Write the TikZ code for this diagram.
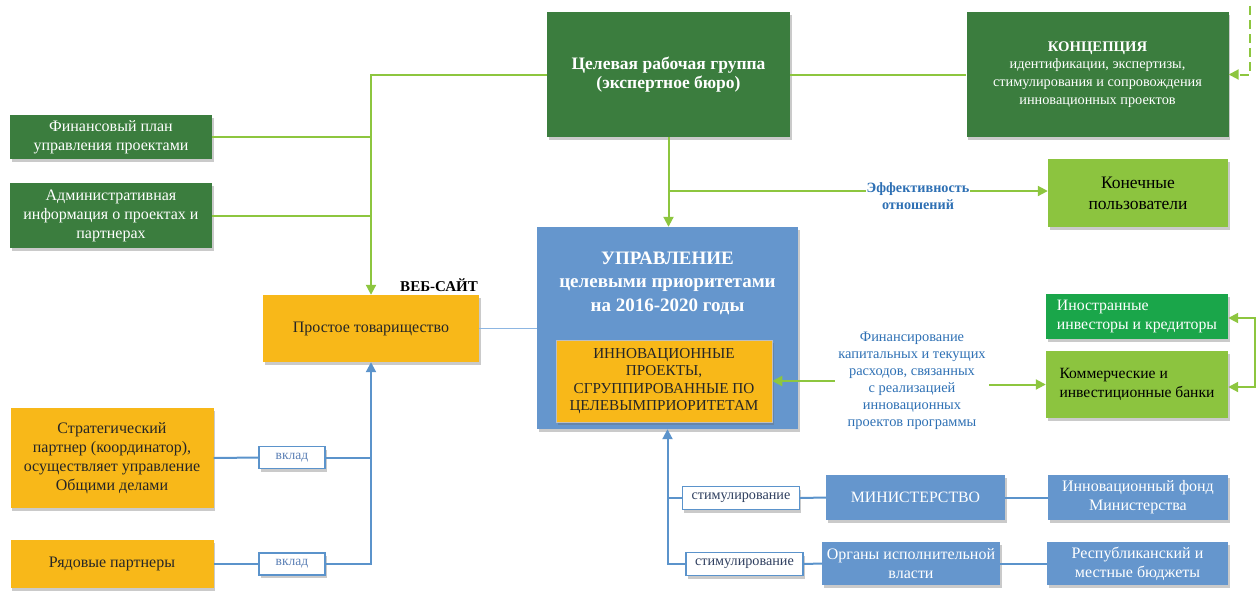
\documentclass[tikz,border=0pt]{standalone}
\usepackage{fontspec}
\setmainfont{Liberation Serif}
\usetikzlibrary{arrows.meta,shadows}
\definecolor{dgreen}{HTML}{3B7D3E}
\definecolor{lgreen}{HTML}{8CC43F}
\definecolor{mgreen}{HTML}{1AA64A}
\definecolor{gline}{HTML}{8DC63F}
\definecolor{bbox}{HTML}{6596CD}
\definecolor{obox}{HTML}{F8B819}
\definecolor{bline}{HTML}{5B93CB}
\definecolor{lbline}{HTML}{8DB6E2}
\definecolor{btext}{HTML}{2E70B4}
\definecolor{vtext}{HTML}{5A7FB5}
\definecolor{stext}{HTML}{2F3F5F}
\newcommand{\fs}[2]{\fontsize{#1}{#2}\selectfont}
\begin{document}
\begin{tikzpicture}[x=1pt,y=-1pt,
  box/.style={draw=none,inner sep=2pt,align=center,
    drop shadow={shadow xshift=1.5pt,shadow yshift=-3pt,opacity=0.35,fill=black!60}},
  dbox/.style={box,fill=dgreen,text=white},
  lbox/.style={box,fill=lgreen,text=black},
  mbox/.style={box,fill=mgreen,text=white},
  obx/.style={box,fill=obox,text=black!85},
  bbx/.style={box,fill=bbox,text=white},
  tagbox/.style={box,fill=white,draw=bline,line width=1.2pt,inner sep=1pt},
  gl/.style={draw=gline,line width=2pt},
  bl/.style={draw=bline,line width=2pt},
  tip/.style={-{Triangle[width=10pt,length=10pt]}},
]
\useasboundingbox (0,0) rectangle (1256,590);

% top row
\node[dbox,minimum width=202pt,minimum height=44pt,font=\fs{16}{19}] (fin) at (111,137) {Финансовый план\\управления проектами};
\node[dbox,minimum width=202pt,minimum height=65pt,font=\fs{16}{19}] (adm) at (111,215.5) {Административная\\информация о проектах и\\партнерах};
\node[dbox,minimum width=243pt,minimum height=125pt,font=\bfseries\fs{17.5}{19}] (tsel) at (668.5,74.5) {Целевая рабочая группа\\(экспертное бюро)};
\node[dbox,minimum width=262pt,minimum height=125pt,font=\fs{14.3}{17.7}] (konc) at (1097.5,74.5) {{\bfseries\fs{14.7}{17.7}КОНЦЕПЦИЯ}\\идентификации, экспертизы,\\стимулирования и сопровождения\\инновационных проектов};
\node[lbox,minimum width=180pt,minimum height=68pt,font=\fs{17.5}{21}] (kon) at (1138,193) {Конечные\\пользователи};

% centre
\node[bbx,minimum width=261pt,minimum height=202pt] (upr) at (667.5,328) {};
\node[text=white,font=\bfseries\fs{19}{23.5},align=center] (uprt) at (667.5,283) {УПРАВЛЕНИЕ\\целевыми приоритетами\\на 2016-2020 годы};
\node[obx,minimum width=216pt,minimum height=82pt,font=\fs{15.2}{17.4},draw=black!25,line width=0.5pt] (inno) at (664,381) {ИННОВАЦИОННЫЕ\\ПРОЕКТЫ,\\СГРУППИРОВАННЫЕ ПО\\ЦЕЛЕВЫМПРИОРИТЕТАМ};
\node[text=btext,font=\fs{14.4}{17},align=center] (fint) at (912,381) {Финансирование\\капитальных и текущих\\расходов, связанных\\с реализацией\\инновационных\\проектов программы};

% right
\node[mbox,minimum width=182pt,minimum height=45pt,font=\fs{15.8}{19},align=left] (inos) at (1137,316.5) {Иностранные\\инвесторы и кредиторы};
\node[lbox,minimum width=182pt,minimum height=67pt,font=\fs{15.6}{18.5},align=left] (kom) at (1137,384.5) {Коммерческие и\\инвестиционные банки};

% left
\node[obx,minimum width=216pt,minimum height=67pt,font=\fs{16}{19}] (prost) at (371,328.5) {Простое товарищество};
\node[font=\bfseries\fs{15}{16}] (web) at (439,285) {ВЕБ-САЙТ};
\node[obx,minimum width=203pt,minimum height=100pt,font=\fs{16}{19}] (strat) at (112,458) {Стратегический\\партнер (координатор),\\осуществляет управление\\Общими делами};
\node[obx,minimum width=203pt,minimum height=48pt,font=\fs{16}{19}] (ryad) at (112,564) {Рядовые партнеры};
\node[tagbox,minimum width=66pt,minimum height=22pt,text=vtext,font=\fs{13.5}{14}] (vk1) at (292,457.5) {вклад};
\node[tagbox,minimum width=66pt,minimum height=22pt,text=vtext,font=\fs{13.5}{14}] (vk2) at (292,564) {вклад};

% bottom right
\node[tagbox,minimum width=117pt,minimum height=23pt,text=stext,font=\fs{14.2}{15}] (stim1) at (741,498) {стимулирование};
\node[tagbox,minimum width=117pt,minimum height=23pt,text=stext,font=\fs{14.2}{15}] (stim2) at (744.5,564) {стимулирование};
\node[bbx,minimum width=179pt,minimum height=45pt,font=\fs{15.8}{19}] (min) at (915.5,497.5) {МИНИСТЕРСТВО};
\node[bbx,minimum width=178pt,minimum height=43pt,font=\fs{16}{19}] (org) at (911,563.5) {Органы исполнительной\\власти};
\node[bbx,minimum width=180pt,minimum height=45pt,font=\fs{16}{19}] (fond) at (1138,497.5) {Инновационный фонд\\Министерства};
\node[bbx,minimum width=181pt,minimum height=43pt,font=\fs{16}{19}] (resp) at (1137.5,563.5) {Республиканский и\\местные бюджеты};

% green connectors
\draw[gl] (tsel.east) -- (konc.west);
\draw[gl,tip] (tsel.west) -| (prost.north);
\draw[gl] (fin.east) -- (fin.east -| prost.north);
\draw[gl] (adm.east) -- (adm.east -| prost.north);
\draw[gl,tip] (tsel.south) -- (tsel.south |- upr.north);
\draw[gl,tip] (tsel.south |- 0,191) -- (kon.west |- 0,191);
\draw[gl,tip] (fint.west |- inno.east) -- (inno.east);
\draw[gl,tip] (fint.east |- kom.west) -- (kom.west);
\coordinate (rtop) at (1254.5,318);
\coordinate (rbot) at (1254.5,387);
\draw[gl,{Triangle[width=10pt,length=10pt]}-{Triangle[width=10pt,length=10pt]}] (inos.east |- rtop) -- (rtop) -- (rbot) -- (kom.east |- rbot);
\coordinate (dtop) at (1250,6);
\draw[gl,tip,dash pattern=on 9pt off 5pt] (dtop) |- (konc.east);
\node[fill=white,inner sep=1pt,text=btext,font=\bfseries\fs{14.2}{17},align=center] (eff) at (918,196) {Эффективность\\отношений};

% blue connectors
\draw[draw=lbline,line width=1.5pt] (prost.east) -- (prost.east -| upr.west);
\draw[bl] (strat.east) -- (vk1.west);
\draw[bl] (vk1.east) -- (vk1.east -| prost.south);
\draw[bl] (ryad.east) -- (vk2.west);
\draw[bl,tip] (vk2.east) -| (prost.south);
\draw[bl] (stim1.west) -- (stim1.west -| upr.south);
\draw[bl,tip] (stim2.west) -| (upr.south);
\draw[bl] (stim1.east) -- (min.west);
\draw[bl] (min.east) -- (fond.west);
\draw[bl] (stim2.east) -- (org.west);
\draw[bl] (org.east) -- (resp.west);
\end{tikzpicture}
\end{document}
